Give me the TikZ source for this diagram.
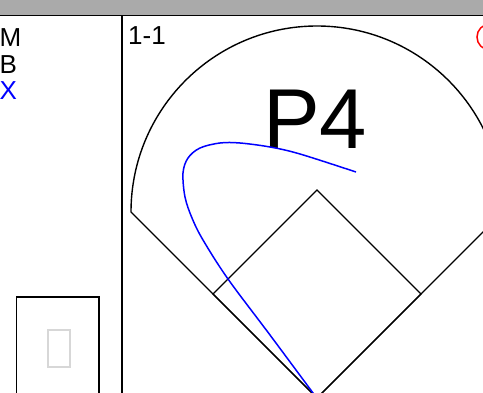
\documentclass[tikz,border=0pt]{standalone}
\usepackage{fontspec}
\setmainfont{Liberation Sans}
\definecolor{barGray}{RGB}{170,170,170}
\definecolor{boxGray}{RGB}{215,215,215}
\begin{document}
\begin{tikzpicture}[x=1pt,y=-1pt,
  fieldline/.style={line width=1.4pt,black},
  lbl/.style={inner sep=0pt,anchor=base west,font=\fontsize{26}{26}\selectfont}]
\useasboundingbox (0,0) rectangle (483,393);
\clip (0,0) rectangle (483,393);
% header bar
\fill[barGray] (0,0) rectangle (483,16);
\draw[line width=1pt] (0,16) -- (483,16);
\draw[line width=1.6pt] (122,16) -- (122,400);
% left panel
\node[lbl] (m) at (-0.5,46.5) {M};
\node[lbl] (b) at (-0.5,73.5) {B};
\node[lbl,blue] (x) at (-0.5,100) {X};
\draw[line width=1.3pt] (16.5,400) -- (16.5,297) -- (99,297) -- (99,400);
\draw[line width=1.2pt,boxGray] (48,330) rectangle (70,367);
% count
\node[lbl] (cnt) at (128,45) {1-1};
% field
\coordinate (home) at (317,398);
\coordinate (first) at (421,294);
\coordinate (second) at (317,190);
\coordinate (third) at (213,294);
\coordinate (lf) at (131,212);
\coordinate (rf) at (503,212);
\draw[fieldline] (home) -- (lf) arc[start angle=180,end angle=360,radius=186] -- (home);
\draw[fieldline] (home) -- (first) -- (second) -- (third) -- cycle;
\node[inner sep=0pt,anchor=base,font=\fontsize{85}{85}\selectfont] (pitch) at (315,149) {P4};
% red circle
\draw[red,line width=1.5pt] (490,37) circle[radius=13];
% pitch path
\draw[blue,line width=1.5pt] plot[smooth,tension=0.55] coordinates {(356,172) (300,154) (270,147) (240,143) (220,143) (200,148) (188,158) (183,173) (185,197) (192,218) (203,240) (228,279) (270,335) (316,397)};
\end{tikzpicture}
\end{document}
